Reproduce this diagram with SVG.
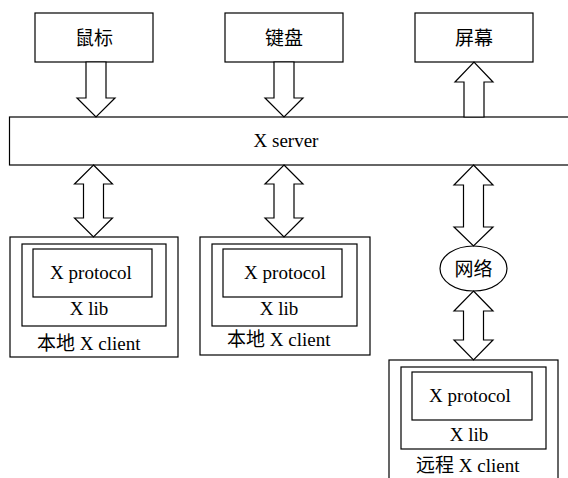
<svg xmlns="http://www.w3.org/2000/svg" width="568" height="478" viewBox="0 0 568 478">
<style>
  .box { fill: #fff; stroke: #000; stroke-width: 1.2; }
  .arr { fill: #fff; stroke: #000; stroke-width: 1.2; stroke-linejoin: miter; }
  text { font-family: "Liberation Serif", "Noto Sans CJK SC", serif; font-size: 19px; fill: #000; }
  .c { text-anchor: middle; }
</style>
<rect width="568" height="478" fill="#fff"/>

<g id="mouse">
  <rect class="box" x="35" y="13" width="118" height="49"/>
  <text class="c" x="94" y="45">鼠标</text>
</g>
<g id="keyboard">
  <rect class="box" x="225" y="13" width="118" height="49"/>
  <text class="c" x="284" y="45">键盘</text>
</g>
<g id="screen">
  <rect class="box" x="415" y="13" width="118" height="49"/>
  <text class="c" x="474" y="45">屏幕</text>
</g>

<g id="xserver">
  <rect class="box" x="9.5" y="117" width="562" height="48"/>
  <text class="c" x="286" y="147">X server</text>
</g>

<g id="client1">
  <rect class="box" x="10" y="237" width="168" height="120"/>
  <rect class="box" x="22" y="244" width="144" height="82"/>
  <rect class="box" x="33" y="249" width="119" height="48"/>
  <text class="c" x="91" y="279">X protocol</text>
  <text class="c" x="89" y="315">X lib</text>
  <text x="37" y="350">本地 X client</text>
</g>

<g id="client2">
  <rect class="box" x="200" y="237" width="170" height="118"/>
  <rect class="box" x="212" y="244" width="145" height="82"/>
  <rect class="box" x="223" y="249" width="119" height="48"/>
  <text class="c" x="285" y="279">X protocol</text>
  <text class="c" x="279" y="315">X lib</text>
  <text x="227" y="346">本地 X client</text>
</g>

<g id="network">
  <ellipse class="box" cx="473.5" cy="268.5" rx="33.5" ry="22.5"/>
  <text class="c" x="473.5" y="276">网络</text>
</g>

<g id="client3">
  <rect class="box" x="389" y="360" width="169" height="130"/>
  <rect class="box" x="401" y="367" width="145" height="82"/>
  <rect class="box" x="412" y="372" width="120" height="48"/>
  <text class="c" x="470" y="402">X protocol</text>
  <text class="c" x="469" y="441">X lib</text>
  <text x="416" y="472">远程 X client</text>
</g>

<g id="connectors">
  <polygon class="arr" points="86,62 106,62 106,98 115,98 96,117 77,98 86,98"/>
  <polygon class="arr" points="274,62 294,62 294,98 303,98 284,117 265,98 274,98"/>
  <polygon class="arr" points="464,117 484,117 484,82 493,82 474,62 455,82 464,82"/>
  <polygon class="arr" points="93.5,165 112.5,184 103.5,184 103.5,218 112.5,218 93.5,237 74.5,218 83.5,218 83.5,184 74.5,184"/>
  <polygon class="arr" points="284,165 303,184 294,184 294,218 303,218 284,237 265,218 274,218 274,184 265,184"/>
  <polygon class="arr" points="473.5,165 493,185 483.5,185 483.5,227 493,227 473.5,246 454,227 463.5,227 463.5,185 454,185"/>
  <polygon class="arr" points="473.5,291 493,311 483.5,311 483.5,340 493,340 473.5,360 454,340 463.5,340 463.5,311 454,311"/>
</g>
</svg>
